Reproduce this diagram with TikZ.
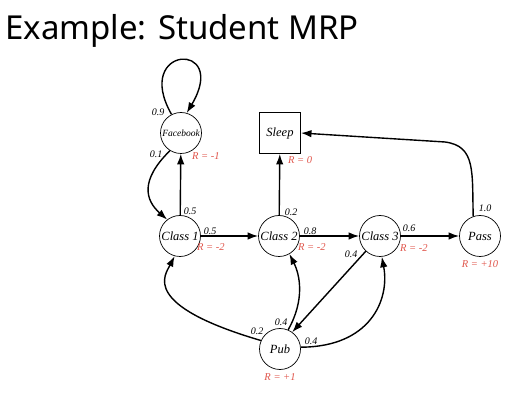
\documentclass[tikz,border=0pt]{standalone}
\usepackage{fontspec}
\setmainfont{Liberation Serif}
\newfontfamily\titlefont{Noto Sans}
\usetikzlibrary{arrows.meta}
\definecolor{rew}{HTML}{E0554B}
\begin{document}
\begin{tikzpicture}[x=1pt,y=-1pt,
  state/.style={circle,draw,line width=0.7pt,minimum size=41pt,inner sep=0pt,font=\itshape\fontsize{12.5}{12.5}\selectfont},
  term/.style={rectangle,draw,line width=0.9pt,minimum size=41pt,inner sep=0pt,font=\itshape\fontsize{12.5}{12.5}\selectfont},
  rwd/.style={text=rew,font=\itshape\fontsize{10.5}{10.5}\selectfont,inner sep=0pt},
  prob/.style={font=\itshape\fontsize{10}{10}\selectfont,inner sep=0pt},
  edge/.style={line width=1.4pt,-{Latex[length=10.5pt,width=7.5pt]}}
]
\useasboundingbox (0,0) rectangle (506,395);
\node[anchor=base west,font=\titlefont\fontsize{33}{33}\selectfont,inner sep=0pt] (title) at (5,40) {Example: Student MRP};

\node[state,font=\itshape\fontsize{9.5}{9.5}\selectfont] (fb) at (181,133) {Facebook};
\node[term] (sleep) at (280,133) {Sleep};
\node[state] (c1) at (180,236) {Class 1};
\node[state] (c2) at (279,236) {Class 2};
\node[state] (c3) at (380,236) {Class 3};
\node[state] (pass) at (480,236) {Pass};
\node[state] (pub) at (280,349) {Pub};

% rewards
\node[rwd,anchor=west] (rfb) at (192,156) {R = -1};
\node[rwd,anchor=west] (rsl) at (288,160) {R = 0};
\node[rwd,anchor=west] (rc1) at (197,247) {R = -2};
\node[rwd,anchor=west] (rc2) at (298,247) {R = -2};
\node[rwd,anchor=west] (rc3) at (400,248) {R = -2};
\node[rwd] (rpa) at (480,264) {R = +10};
\node[rwd] (rpu) at (280,377) {R = +1};

% edges
\draw[edge] (fb.117) .. controls (132,45) and (230,40) .. (fb.74);
\draw[edge] (fb.-122) .. controls (140,180) and (145,200) .. (c1.128);
\draw[edge] (c1) -- (fb);
\draw[edge] (c1) -- (c2);
\draw[edge] (c2) -- (sleep);
\draw[edge] (c2) -- (c3);
\draw[edge] (c3) -- (pass);
\draw[edge] (c3.-133) -- (pub.54);
\draw[edge] (pass.109) .. controls (472,172) and (476,146) .. (445,142) -- (sleep.east);
\draw[edge] (pub.156) .. controls (140,305) and (165,275) .. (c1.-105);
\draw[edge] (pub.67) .. controls (305,300) and (300,275) .. (c2.-60);
\draw[edge] (pub.5) .. controls (370,347) and (390,300) .. (c3.-85);

% probabilities
\node[prob] (p1) at (158,112) {0.9};
\node[prob] (p2) at (156,154) {0.1};
\node[prob] (p3) at (190,211) {0.5};
\node[prob] (p4) at (210,231) {0.5};
\node[prob] (p5) at (291,212) {0.2};
\node[prob] (p6) at (310,231) {0.8};
\node[prob] (p7) at (409,228) {0.6};
\node[prob] (p8) at (351,254) {0.4};
\node[prob] (p9) at (485,208) {1.0};
\node[prob] (p10) at (257,331) {0.2};
\node[prob] (p11) at (281,322) {0.4};
\node[prob] (p12) at (311,341) {0.4};
\end{tikzpicture}
\end{document}
